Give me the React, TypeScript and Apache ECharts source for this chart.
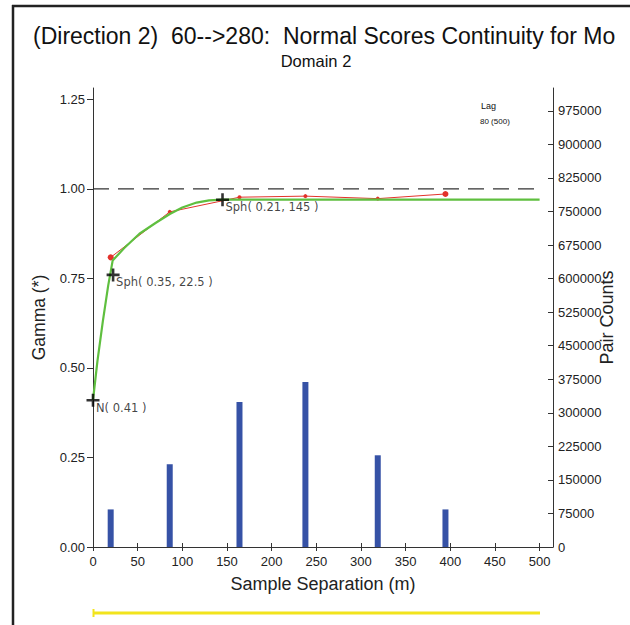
import React, { useEffect, useRef } from "react";
import * as echarts from "echarts";

// ---- data ----
const lagDist = [19.8, 85.9, 164, 237.8, 318.8, 394.6];
const expGamma = [0.809, 0.936, 0.977, 0.98, 0.973, 0.986];
const pairCounts = [84000, 185000, 324000, 369000, 205000, 84000];
const modelH = [0, 5, 11, 17, 22, 35, 52, 70, 86, 100, 116, 130, 145, 500];
const modelGamma = [0.41, 0.52, 0.63, 0.73, 0.8, 0.835, 0.875, 0.905, 0.93, 0.948, 0.962, 0.968, 0.97, 0.97];
const structH = [0, 22.5, 145];
const structGamma = [0.41, 0.76, 0.97];
const structLabels = ["N( 0.41 )", "Sph( 0.35, 22.5 )", "Sph( 0.21, 145 )"];
const sillH = [0, 500];
const sillValue = 1.0;
const gammaTicks = [0, 0.25, 0.5, 0.75, 1.0, 1.25];
const pairTicks = [0, 75000, 150000, 225000, 300000, 375000, 450000, 525000, 600000, 675000, 750000, 825000, 900000, 975000];
const xTicks = [0, 50, 100, 150, 200, 250, 300, 350, 400, 450, 500];

const titleText = "(Direction 2)\u00a0 60-->280:\u00a0 Normal Scores Continuity for Mo";
const subTitleText = "Domain 2";
const lagTitle = "Lag";
const lagText = "80 (500)";

const FONT = "'Liberation Sans', Arial, sans-serif";
const AXIS_COLOR = "#333";
const TEXT_COLOR = "#222";

export default function App() {
  const ref = useRef<HTMLDivElement>(null);
  useEffect(() => {
    if (!ref.current) return;
    const chart = echarts.init(ref.current, undefined, { renderer: "svg" });
    const plus = "path://M4,0h2v4h4v2h-4v4h-2v-4h-4v-2h4z";
    const option: any = {
      animation: false,
      backgroundColor: "#fff",
      textStyle: { fontFamily: FONT },
      grid: { left: 93, right: 77, top: 88, bottom: 78, containLabel: false, outerBoundsMode: "none" },
      xAxis: [
        {
          type: "value",
          min: 0,
          max: 515,
          position: "bottom",
          axisLine: { show: true, onZero: false, lineStyle: { color: AXIS_COLOR, width: 1 } },
          axisTick: { show: true, inside: true, length: 4, customValues: xTicks, lineStyle: { color: AXIS_COLOR } },
          axisLabel: { customValues: xTicks, margin: 8, fontSize: 13, color: TEXT_COLOR, fontFamily: FONT },
          splitLine: { show: false },
          name: "Sample Separation (m)",
          nameLocation: "middle",
          nameGap: 28,
          nameMoveOverlap: false,
          nameTextStyle: { fontSize: 18, color: TEXT_COLOR, fontFamily: FONT },
        },
        {
          type: "value",
          min: 0,
          max: 515,
          position: "bottom",
          axisLine: { show: false, onZero: false },
          axisTick: { show: true, inside: false, length: 4, customValues: xTicks, lineStyle: { color: AXIS_COLOR } },
          axisLabel: { show: false },
          splitLine: { show: false },
        },
      ],
      yAxis: [
        {
          type: "value",
          min: 0,
          max: 1.282,
          position: "left",
          axisLine: { show: true, onZero: false, lineStyle: { color: AXIS_COLOR, width: 1 } },
          axisTick: { show: true, inside: false, length: 6, customValues: gammaTicks, lineStyle: { color: AXIS_COLOR } },
          axisLabel: {
            customValues: gammaTicks,
            margin: 8,
            fontSize: 13,
            color: TEXT_COLOR,
            fontFamily: FONT,
            formatter: (v: number) => v.toFixed(2),
          },
          splitLine: { show: false },
          name: "Gamma (*)",
          nameLocation: "middle",
          nameGap: 45,
          nameMoveOverlap: false,
          nameTextStyle: { fontSize: 17.5, color: TEXT_COLOR, fontFamily: FONT },
        },
        {
          type: "value",
          min: 0,
          max: 1026000,
          position: "right",
          axisLine: { show: true, onZero: false, lineStyle: { color: AXIS_COLOR, width: 1 } },
          axisTick: { show: true, inside: true, length: 5, customValues: pairTicks, lineStyle: { color: AXIS_COLOR } },
          axisLabel: {
            customValues: pairTicks,
            margin: 5,
            fontSize: 13,
            color: TEXT_COLOR,
            fontFamily: FONT,
            formatter: (v: number) => String(Math.round(v)),
          },
          splitLine: { show: false },
          name: "Pair Counts",
          nameLocation: "middle",
          nameGap: 45,
          nameRotate: 90,
          nameMoveOverlap: false,
          nameTextStyle: { fontSize: 18, color: TEXT_COLOR, fontFamily: FONT },
        },
      ],
      series: [
        {
          type: "bar",
          name: "Pairs",
          xAxisIndex: 0,
          yAxisIndex: 1,
          barWidth: 6,
          itemStyle: { color: "#3652a6" },
          data: lagDist.map((h, i) => [h, pairCounts[i]]),
          z: 1,
        },
        {
          type: "line",
          name: "Sill",
          xAxisIndex: 0,
          yAxisIndex: 0,
          symbol: "none",
          lineStyle: { color: "#333", width: 1.3, type: [16, 9] },
          data: sillH.map((h) => [h, sillValue]),
          z: 2,
        },
        {
          type: "line",
          name: "Experimental",
          xAxisIndex: 0,
          yAxisIndex: 0,
          symbol: "circle",
          symbolSize: (_v: any, p: any) => (p.dataIndex === 0 || p.dataIndex === lagDist.length - 1 ? 6 : 4),
          itemStyle: { color: "#e3322b" },
          lineStyle: { color: "#e3322b", width: 1 },
          data: lagDist.map((h, i) => [h, expGamma[i]]),
          z: 3,
        },
        {
          type: "line",
          name: "Model",
          xAxisIndex: 0,
          yAxisIndex: 0,
          symbol: "none",
          lineStyle: { color: "#5fbf3f", width: 2.2 },
          data: modelH.map((h, i) => [h, modelGamma[i]]),
          z: 4,
        },
        {
          type: "scatter",
          name: "Structures",
          xAxisIndex: 0,
          yAxisIndex: 0,
          symbol: plus,
          symbolSize: 13,
          itemStyle: { color: "#000" },
          label: {
            show: true,
            position: [9.5, 14],
            align: "left",
            verticalAlign: "middle",
            fontSize: 11.5,
            fontFamily: "'DejaVu Sans', sans-serif",
            color: "#111",
            formatter: (p: any) => structLabels[p.dataIndex],
          },
          data: structH.map((h, i) => [h, structGamma[i]]),
          z: 5,
        },
      ],
      graphic: [
        { type: "line", shape: { x1: 12, y1: 6, x2: 630, y2: 6 }, style: { stroke: "#222", lineWidth: 2.5 } },
        { type: "line", shape: { x1: 13, y1: 5, x2: 13, y2: 625 }, style: { stroke: "#222", lineWidth: 2.5 } },
        {
          type: "text",
          left: 33,
          top: 24,
          style: { text: titleText, fontSize: 23, fontFamily: FONT, fill: "#111" },
        },
        {
          type: "text",
          x: 316,
          y: 61,
          style: { text: subTitleText, fontSize: 16.5, fontFamily: FONT, fill: "#111", align: "center", verticalAlign: "middle" },
        },
        {
          type: "text",
          x: 481,
          y: 105.5,
          style: { text: lagTitle, fontSize: 9, fontFamily: FONT, fill: "#111", verticalAlign: "middle" },
        },
        {
          type: "text",
          x: 480,
          y: 121,
          style: { text: lagText, fontSize: 8, fontFamily: FONT, fill: "#111", verticalAlign: "middle" },
        },
        { type: "line", shape: { x1: 93, y1: 613, x2: 540, y2: 613 }, style: { stroke: "#f2e41c", lineWidth: 3 } },
        { type: "line", shape: { x1: 93.5, y1: 609, x2: 93.5, y2: 617 }, style: { stroke: "#f2e41c", lineWidth: 2 } },
      ],
    };
    chart.setOption(option);
    return () => chart.dispose();
  }, []);
  return <div ref={ref} style={{ position: "fixed", left: 0, top: 0, width: 630, height: 625 }} />;
}
